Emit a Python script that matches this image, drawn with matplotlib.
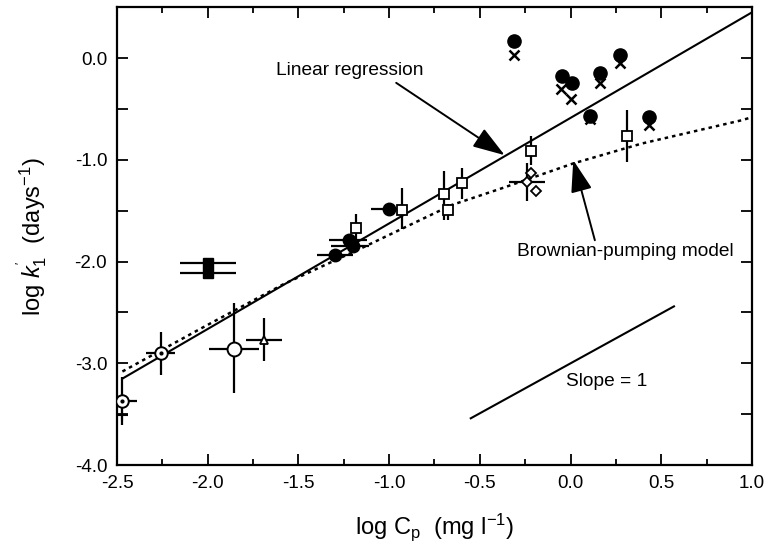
import matplotlib
matplotlib.use("Agg")
import matplotlib.pyplot as plt
from matplotlib.ticker import FixedLocator, FuncFormatter

plt.rcParams['font.family'] = ['Liberation Sans', 'DejaVu Sans']
plt.rcParams['mathtext.fontset'] = 'custom'
plt.rcParams['mathtext.rm'] = 'Liberation Sans'
plt.rcParams['mathtext.it'] = 'Liberation Sans:italic'

# ---- data ----
# linear regression line
reg_x = [-2.47, 1.0]
reg_y = [-3.15, 0.45]
# Brownian-pumping model curve
bp_x = [-2.47, -2.04, -1.58, -1.155, -0.915, -0.657, -0.38, 0.015, 0.392, 0.945, 1.0]
bp_y = [-3.08, -2.66, -2.22, -1.87, -1.665, -1.445, -1.28, -1.035, -0.84, -0.61, -0.58]
# slope = 1 reference segment
slope_x = [-0.55, 0.57]
slope_y = [-3.54, -2.44]

# open circles with dot
oc_x = [-2.47, -2.26]
oc_y = [-3.37, -2.90]
oc_xerr = [[0.03, 0.08], [0.08, 0.08]]
oc_yerr = [[0.24, 0.21], [0.24, 0.21]]
# plain open circle
op_x = [-1.855]
op_y = [-2.86]
op_xerr = [[0.14], [0.14]]
op_yerr = [[0.43], [0.45]]
# plus marker
plus_x = [-2.47]
plus_y = [-3.51]
# open triangle
tri_x = [-1.69]
tri_y = [-2.77]
tri_xerr = [[0.10], [0.10]]
tri_yerr = [[0.21], [0.22]]
# filled squares
fs_x = [-2.0, -2.0]
fs_y = [-2.01, -2.11]
fs_xerr = [[0.155, 0.155], [0.155, 0.155]]
# filled circles with horizontal error bars
fc_x = [-1.30, -1.22, -1.20, -1.0]
fc_y = [-1.94, -1.79, -1.85, -1.48]
fc_xerr = [[0.10, 0.11, 0.12, 0.10], [0.10, 0.10, 0.09, 0.08]]
# open squares with vertical error bars
sq_x = [-1.18, -0.93, -0.70, -0.675, -0.60, -0.22, 0.31]
sq_y = [-1.67, -1.49, -1.34, -1.49, -1.23, -0.91, -0.77]
sq_yerr = [[0.12, 0.19, 0.25, 0.10, 0.15, 0.14, 0.25], [0.14, 0.21, 0.23, 0.06, 0.15, 0.14, 0.26]]
# open diamonds
dm_x = [-0.24, -0.22, -0.19]
dm_y = [-1.22, -1.13, -1.31]
dm_xerr = [[0.10, 0.0, 0.0], [0.10, 0.0, 0.0]]
dm_yerr = [[0.18, 0.0, 0.0], [0.19, 0.0, 0.0]]
# filled circles (upper group) and crosses
uc_x = [-0.31, -0.046, 0.006, 0.16, 0.27, 0.107, 0.43]
uc_y = [0.17, -0.18, -0.24, -0.15, 0.03, -0.57, -0.58]
cx_x = [-0.31, -0.053, 0.0, 0.165, 0.27, 0.107, 0.43]
cx_y = [0.03, -0.30, -0.40, -0.24, -0.05, -0.60, -0.66]

x_major = [-2.5, -2.0, -1.5, -1.0, -0.5, 0.0, 0.5, 1.0]
x_minor = [-2.25, -1.75, -1.25, -0.75, -0.25, 0.25, 0.75]
y_major = [-4.0, -3.5, -3.0, -2.5, -2.0, -1.5, -1.0, -0.5, 0.0]

fig = plt.figure(figsize=(7.66, 5.57), dpi=100)
ax = fig.add_axes([0.1527, 0.165, 0.829, 0.822])

ebkw = dict(ecolor='black', elinewidth=1.6, capsize=0, ls='none', zorder=3)

ax.plot(reg_x, reg_y, color='black', lw=1.5, zorder=2)
ax.plot(bp_x, bp_y, color='black', lw=1.8, ls=(0, (1.4, 1.6)), zorder=2)
ax.plot(slope_x, slope_y, color='black', lw=1.5)

ax.errorbar(oc_x, oc_y, xerr=oc_xerr, yerr=oc_yerr, fmt='o', ms=9, mfc='white',
            mec='black', mew=1.4, **ebkw)
ax.plot(oc_x, oc_y, 'o', ms=2, color='black', zorder=4)
ax.errorbar(op_x, op_y, xerr=op_xerr, yerr=op_yerr, fmt='o', ms=10, mfc='white',
            mec='black', mew=1.4, **ebkw)
ax.plot(plus_x, plus_y, '+', ms=9, mew=1.5, color='black')
ax.errorbar(tri_x, tri_y, xerr=tri_xerr, yerr=tri_yerr, fmt='^', ms=6, mfc='white',
            mec='black', mew=1.3, **ebkw)
ax.errorbar(fs_x, fs_y, xerr=fs_xerr, fmt='s', ms=7, mfc='black', mec='black', **ebkw)
ax.errorbar(fc_x, fc_y, xerr=fc_xerr, fmt='o', ms=9, mfc='black', mec='black', **ebkw)
ax.errorbar(sq_x, sq_y, yerr=sq_yerr, fmt='s', ms=7.5, mfc='white', mec='black',
            mew=1.3, **ebkw)
ax.errorbar(dm_x, dm_y, xerr=dm_xerr, yerr=dm_yerr, fmt='D', ms=5.5, mfc='white',
            mec='black', mew=1.3, **ebkw)
ax.plot(uc_x, uc_y, 'o', ms=9.5, color='black', zorder=4)
ax.plot(cx_x, cx_y, 'x', ms=7.5, mew=1.8, color='black', zorder=4)

ax.set_xlim(-2.5, 1.0)
ax.set_ylim(-4.0, 0.5)
ax.xaxis.set_major_locator(FixedLocator(x_major))
ax.xaxis.set_minor_locator(FixedLocator(x_minor))
ax.yaxis.set_major_locator(FixedLocator(y_major))
ax.xaxis.set_major_formatter(FuncFormatter(lambda v, p: f"{v:.1f}"))
ax.yaxis.set_major_formatter(FuncFormatter(lambda v, p: f"{v:.1f}" if abs(v - round(v)) < 1e-9 else ""))
ax.tick_params(which='both', direction='in', top=True, right=True, width=1.3,
               labelsize=13.5)
ax.tick_params(which='major', length=8, pad=7)
ax.tick_params(which='minor', length=4.5)
for s in ax.spines.values():
    s.set_linewidth(1.6)

ax.set_xlabel(r"log C$_\mathrm{p}$  (mg l$^{-1}$)", fontsize=17, labelpad=14)
ax.set_ylabel(r"log $k^{'}_{1}$  (days$^{-1}$)", fontsize=17, labelpad=18)

arrow_kw = dict(arrowstyle='-|>,head_length=0.9,head_width=0.3', mutation_scale=22,
                lw=1.4, color='black', shrinkA=0, shrinkB=0)
ax.annotate("", xy=(-0.363, -0.954), xytext=(-0.961, -0.243), arrowprops=arrow_kw)
ax.annotate("", xy=(0.015, -1.003), xytext=(0.134, -1.79), arrowprops=arrow_kw)
ax.text(-1.216, -0.118, "Linear regression", fontsize=13.8, ha='center', va='center')
ax.text(0.304, -1.905, "Brownian-pumping model", fontsize=13.8, ha='center', va='center')
ax.text(0.20, -3.18, "Slope = 1", fontsize=13.8, ha='center', va='center')

fig.savefig("out.png", dpi=100)
